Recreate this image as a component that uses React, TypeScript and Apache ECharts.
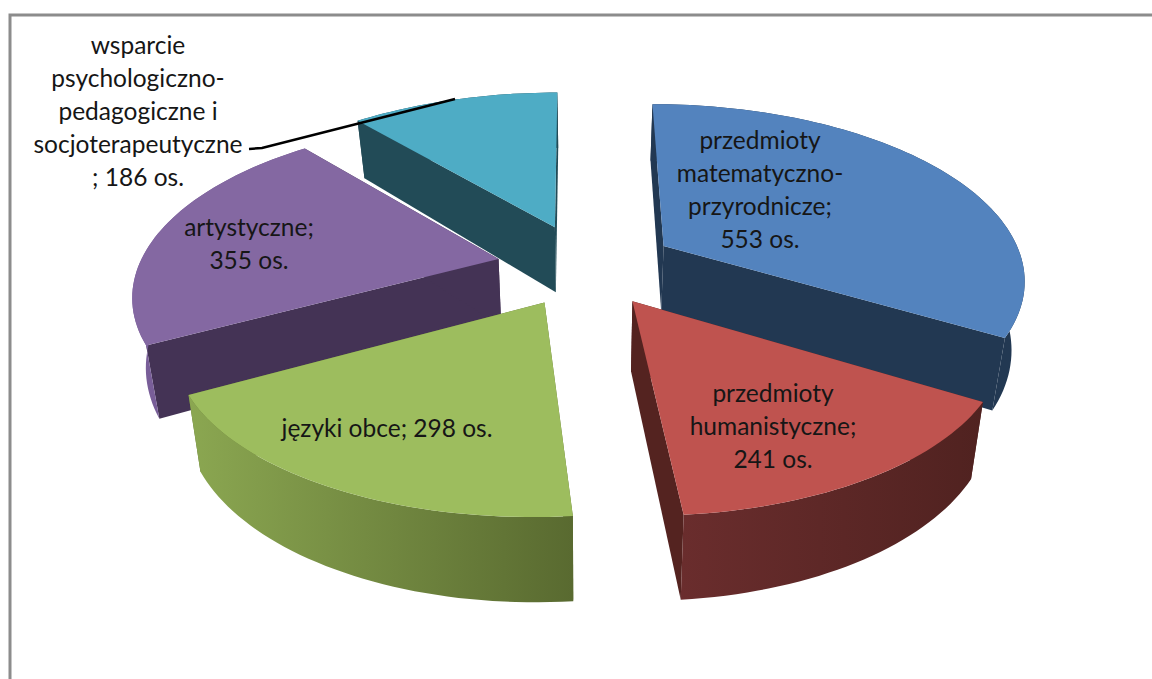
import React, { useEffect, useRef } from "react";
import * as echarts from "echarts";

const categories = [
  "przedmioty matematyczno-przyrodnicze",
  "przedmioty humanistyczne",
  "języki obce",
  "artystyczne",
  "wsparcie psychologiczno-pedagogiczne i socjoterapeutyczne",
];
const values = [553, 241, 298, 355, 186];
const labelLines = [
  ["przedmioty", "matematyczno-", "przyrodnicze;", "553 os."],
  ["przedmioty", "humanistyczne;", "241 os."],
  ["języki obce; 298 os."],
  ["artystyczne;", "355 os."],
  ["wsparcie", "psychologiczno-", "pedagogiczne i", "socjoterapeutyczne", "; 186 os."],
];

const topColors = ["#5383be", "#bf534f", "#9dbd5e", "#8468a2", "#4eacc5"];
const wallColors = ["#223852", "#542320", "#5f7033", "#443355", "#224b57"];
const rimStops = [
  ["#223852", "#223852"],
  ["#6a2d2d", "#502220"],
  ["#8ba751", "#596a30"],
  ["#7a5f9a", "#6a5288"],
  ["#224b57", "#224b57"],
];
const labelCenters = [
  [760, 189],
  [773, 425],
  [387, 427],
  [249, 243],
  [138, 110],
];
// small per-slice corrections of the projected rim, standing in for the original's 3-D camera
const rimNudge = [
  [-5, -7],
  [6, 2],
  [-6, 2],
  [0, -4],
  [0, 0],
];
const drawOrder = [4, 0, 3, 2, 1];

const CX = 586, CY = 266, A = 355, B = 165, P = 0.224, EXPLODE = 0.25, START = 0, SKEW = 0.43;
const LINE_H = 33;
const FONT = "Lato";

const total = values.reduce((a, b) => a + b, 0);
const rad = (d: number) => (d * Math.PI) / 180;

function down(p: number[]): number[] {
  const t = 56 + 0.07 * (p[1] - 100);
  return [p[0] + (CX - p[0]) * 0.03, p[1] + t];
}

function sliceShapes(i: number) {
  let a0 = START;
  for (let k = 0; k < i; k++) a0 += (values[k] / total) * 360;
  const a1 = a0 + (values[i] / total) * 360;
  const mid = rad((a0 + a1) / 2);
  const ox = A * EXPLODE * Math.sin(mid);
  const oy = -B * EXPLODE * Math.cos(mid);
  const apex = [CX + ox, CY + oy];
  const arc: number[][] = [];
  const n = Math.max(8, Math.ceil((a1 - a0) / 1.5));
  for (let k = 0; k <= n; k++) {
    const deg = a0 + ((a1 - a0) * k) / n;
    const u = Math.sin(rad(deg));
    const v = -Math.cos(rad(deg));
    const s = 1 / (1 - P * v);
    arc.push([
      apex[0] + A * u * s + ox * (s - 1) * SKEW + rimNudge[i][0],
      apex[1] + B * v * s + rimNudge[i][1],
    ]);
  }
  return { apex, arc };
}

function renderItem(params: any) {
  const i = drawOrder[params.dataIndex];
  const { apex, arc } = sliceShapes(i);
  const first = arc[0];
  const last = arc[arc.length - 1];
  const children: any[] = [];
  const poly = (points: number[][], fill: any) => ({
    type: "polygon",
    shape: { points },
    style: { fill, stroke: "none" },
    silent: true,
  });
  children.push(poly([apex, first, down(first), down(apex)], wallColors[i]));
  children.push(poly([apex, last, down(last), down(apex)], wallColors[i]));
  children.push(
    poly(
      [...arc, ...arc.map(down).reverse()],
      new echarts.graphic.LinearGradient(0, 0, 1, 0, [
        { offset: 0, color: rimStops[i][0] },
        { offset: 1, color: rimStops[i][1] },
      ])
    )
  );
  children.push(poly([apex, ...arc], topColors[i]));
  return { type: "group", children };
}

function labelGraphics() {
  return labelLines.map((lines, i) => ({
    type: "text",
    x: labelCenters[i][0],
    y: labelCenters[i][1],
    z: 10,
    style: {
      text: lines.join("\n"),
      align: "center",
      verticalAlign: "middle",
      font: `24.5px ${FONT}`,
      lineHeight: LINE_H,
      fill: "#161616",
    },
  }));
}

export default function App() {
  const ref = useRef<HTMLDivElement>(null);
  useEffect(() => {
    document.body.style.margin = "0";
    const chart = echarts.init(ref.current!, undefined, { renderer: "svg" });
    chart.setOption({
      animation: false,
      backgroundColor: "#ffffff",
      graphic: [
        {
          type: "polyline",
          shape: { points: [[10, 680], [10, 15], [1153, 15]] },
          style: { stroke: "#8c8c8c", lineWidth: 3, fill: "none" },
          z: 1,
        },
        {
          type: "polyline",
          shape: { points: [[249, 149], [262, 148], [455, 99]] },
          style: { stroke: "#000000", lineWidth: 2.5, fill: "none" },
          z: 9,
        },
        ...labelGraphics(),
      ],
      series: [
        {
          type: "custom",
          coordinateSystem: "none",
          renderItem,
          silent: true,
          z: 5,
          data: drawOrder.map((i) => ({ value: values[i], name: categories[i] })),
        },
      ],
    });
    return () => chart.dispose();
  }, []);
  return <div ref={ref} style={{ width: 1152, height: 679 }} />;
}
